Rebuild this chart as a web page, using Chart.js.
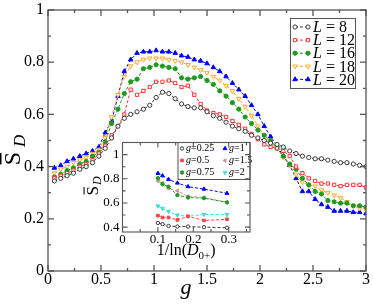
<!DOCTYPE html>
<html>
<head>
<meta charset="utf-8">
<script src="https://cdn.jsdelivr.net/npm/chart.js@4.4.1/dist/chart.umd.min.js"></script>
<style>
html, body { margin: 0; padding: 0; background: #fff; }
#wrap { position: relative; width: 373px; height: 304px; overflow: hidden; }
#main_chart { position: absolute; left: 0; top: 0; }
#inset_chart { position: absolute; left: 78px; top: 128px; }
</style>
</head>
<body>
<div id="wrap">
<canvas id="main_chart" width="373" height="304"></canvas>
<canvas id="inset_chart" width="177" height="137"></canvas>
</div>
<script>
// main panel: S_D against g for several L
const g_values = [
    0.06, 0.12, 0.18, 0.24, 0.30, 0.36, 0.42, 0.48, 0.54, 0.60,
    0.66, 0.72, 0.78, 0.84, 0.90, 0.96, 1.02, 1.08, 1.14, 1.20,
    1.26, 1.32, 1.38, 1.44, 1.50, 1.56, 1.62, 1.68, 1.74, 1.80,
    1.86, 1.92, 1.98, 2.04, 2.10, 2.16, 2.22, 2.28, 2.34, 2.40,
    2.46, 2.52, 2.58, 2.64, 2.70, 2.76, 2.82, 2.88, 2.94, 3.00,
];
const sd_l8 = [
    0.345, 0.355, 0.365, 0.375, 0.39, 0.40, 0.415, 0.44, 0.47, 0.51,
    0.555, 0.585, 0.60, 0.61, 0.62, 0.635, 0.665, 0.685, 0.68, 0.66,
    0.64, 0.63, 0.625, 0.625, 0.61, 0.595, 0.585, 0.57, 0.555, 0.545,
    0.535, 0.52, 0.51, 0.50, 0.49, 0.485, 0.475, 0.46, 0.45, 0.44,
    0.435, 0.43, 0.43, 0.425, 0.42, 0.415, 0.415, 0.41, 0.405, 0.40,
];
const sd_l12 = [
    0.355, 0.365, 0.375, 0.385, 0.40, 0.41, 0.425, 0.45, 0.48, 0.52,
    0.555, 0.60, 0.695, 0.675, 0.69, 0.705, 0.725, 0.725, 0.73, 0.72,
    0.705, 0.71, 0.675, 0.64, 0.615, 0.605, 0.60, 0.59, 0.575, 0.56,
    0.545, 0.525, 0.505, 0.485, 0.475, 0.47, 0.46, 0.44, 0.40, 0.375,
    0.355, 0.345, 0.335, 0.335, 0.33, 0.325, 0.33, 0.33, 0.33, 0.32,
];
const sd_l16 = [
    0.36, 0.37, 0.385, 0.395, 0.41, 0.42, 0.44, 0.455, 0.495, 0.565,
    0.62, 0.68, 0.725, 0.735, 0.775, 0.78, 0.79, 0.785, 0.78, 0.775,
    0.74, 0.735, 0.74, 0.745, 0.73, 0.715, 0.69, 0.67, 0.645, 0.62,
    0.59, 0.565, 0.54, 0.52, 0.50, 0.47, 0.44, 0.41, 0.39, 0.355,
    0.33, 0.305, 0.295, 0.27, 0.265, 0.26, 0.26, 0.25, 0.25, 0.245,
];
const sd_l18 = [
    0.375, 0.39, 0.40, 0.415, 0.425, 0.435, 0.45, 0.465, 0.51, 0.59,
    0.675, 0.745, 0.785, 0.80, 0.81, 0.815, 0.815, 0.815, 0.81, 0.805,
    0.80, 0.79, 0.78, 0.77, 0.76, 0.745, 0.73, 0.71, 0.69, 0.66,
    0.63, 0.595, 0.555, 0.52, 0.49, 0.47, 0.435, 0.405, 0.37, 0.34,
    0.33, 0.325, 0.31, 0.30, 0.29, 0.28, 0.265, 0.25, 0.24, 0.235,
];
const sd_l20 = [
    0.395, 0.405, 0.42, 0.43, 0.44, 0.45, 0.46, 0.475, 0.53, 0.575,
    0.67, 0.765, 0.81, 0.835, 0.84, 0.84, 0.845, 0.84, 0.84, 0.835,
    0.825, 0.82, 0.81, 0.805, 0.795, 0.78, 0.765, 0.745, 0.72, 0.695,
    0.67, 0.635, 0.60, 0.555, 0.515, 0.48, 0.44, 0.405, 0.355, 0.305,
    0.305, 0.275, 0.255, 0.245, 0.23, 0.23, 0.23, 0.225, 0.225, 0.22,
];
const l_labels = ['8', '12', '16', '18', '20'];
const main_x_ticks = [0, 0.5, 1, 1.5, 2, 2.5, 3];
const main_x_minor = [0.25, 0.75, 1.25, 1.75, 2.25, 2.75];
const main_y_ticks = [0, 0.2, 0.4, 0.6, 0.8, 1];
const main_y_minor = [0.1, 0.3, 0.5, 0.7, 0.9];

// inset: S_D against 1/ln(D0+) for several g
const inset_x_values = [0.1, 0.113, 0.13, 0.155, 0.185, 0.23, 0.295];
const inset_g025 = [0.435, 0.425, 0.41, 0.405, 0.405, 0.40, 0.395];
const inset_g05 = [0.495, 0.48, 0.48, 0.46, 0.49, 0.455, 0.465];
const inset_g075 = [0.805, 0.755, 0.735, 0.665, 0.645, 0.64, 0.605];
const inset_g1 = [0.845, 0.825, 0.795, 0.765, 0.735, 0.715, 0.68];
const inset_g15 = [0.78, 0.765, 0.72, 0.70, 0.655, 0.645, 0.605];
const inset_g2 = [0.575, 0.555, 0.53, 0.50, 0.49, 0.505, 0.505];
const g_labels = ['0.25', '0.5', '0.75', '1', '1.5', '2'];
const inset_x_ticks = [0, 0.1, 0.2, 0.3];
const inset_x_minor = [0.05, 0.15, 0.25, 0.35];
const inset_y_ticks = [0.4, 0.6, 0.8, 1];
const inset_y_minor = [0.5, 0.7, 0.9];

const serif = '"Liberation Serif", "DejaVu Serif", serif';
const frame_color = '#555555';

const main_styles = [
    { color: '#3a3a3a', fill: '#ffffff', point: 'circle', rotation: 0, radius: 2.1 },
    { color: '#ff3333', fill: '#ffffff', point: 'rect', rotation: 0, radius: 2.3 },
    { color: '#1f9a1f', fill: '#1f9a1f', point: 'circle', rotation: 0, radius: 2.1 },
    { color: '#ffaa22', fill: '#ffffff', point: 'triangle', rotation: 180, radius: 2.6 },
    { color: '#0000ff', fill: '#0000ff', point: 'triangle', rotation: 0, radius: 2.6 },
];
const inset_styles = [
    { color: '#3a3a3a', fill: '#ffffff', point: 'circle', rotation: 0, radius: 1.7 },
    { color: '#ff4444', fill: '#ff4444', point: 'rect', rotation: 0, radius: 1.9 },
    { color: '#1f9a1f', fill: '#1f9a1f', point: 'circle', rotation: 0, radius: 1.7 },
    { color: '#0000ff', fill: '#0000ff', point: 'triangle', rotation: 0, radius: 2.2 },
    { color: '#c49a9a', fill: '#c49a9a', point: 'triangle', rotation: 270, radius: 2 },
    { color: '#40e0d0', fill: '#40e0d0', point: 'triangle', rotation: 180, radius: 2.2 },
];

function pair_points(xs, ys) {
    return xs.map(function (x, idx) {
        return { x: x, y: ys[idx] };
    });
}

function make_dataset(label, xs, ys, style) {
    return {
        label: label,
        data: pair_points(xs, ys),
        showLine: true,
        borderColor: style.color,
        borderWidth: 1,
        borderDash: [3, 2],
        pointStyle: style.point,
        pointRotation: style.rotation,
        pointRadius: style.radius,
        pointBorderWidth: 1,
        pointBorderColor: style.color,
        pointBackgroundColor: style.fill,
        tension: 0,
    };
}

function fmt_tick(value) {
    return String(Math.round(value * 100) / 100);
}

function draw_marker(ctx, style, x, y) {
    ctx.save();
    ctx.strokeStyle = style.color;
    ctx.fillStyle = style.fill;
    ctx.lineWidth = 1;
    ctx.setLineDash([]);
    Chart.helpers.drawPoint(ctx, {
        pointStyle: style.point,
        rotation: style.rotation,
        radius: style.radius,
        borderWidth: 1,
    }, x, y);
    ctx.restore();
}

function draw_sd_title(ctx, cx, cy, size, gap) {
    const sub_size = Math.round(size * 0.7);
    ctx.save();
    ctx.translate(cx, cy);
    ctx.rotate(-Math.PI / 2);
    ctx.fillStyle = '#000';
    ctx.textBaseline = 'alphabetic';
    ctx.font = size + 'px ' + serif;
    const s_w = ctx.measureText('S').width;
    ctx.font = 'italic ' + sub_size + 'px ' + serif;
    const d_w = ctx.measureText('D').width;
    const x0 = -(s_w + gap + d_w) / 2;
    const base = size * 0.33;
    ctx.font = size + 'px ' + serif;
    ctx.fillText('S', x0, base);
    ctx.fillRect(x0 + 1, base - size * 0.83, s_w - 2, Math.max(1, size / 16));
    ctx.font = 'italic ' + sub_size + 'px ' + serif;
    ctx.fillText('D', x0 + s_w + gap, base + size * 0.22);
    ctx.restore();
}

function make_frame_plugin(cfg) {
    return {
        id: 'frame_' + cfg.name,
        beforeDatasetsDraw: function (chart) {
            const area = chart.chartArea;
            if (cfg.white) {
                const ctx = chart.ctx;
                ctx.save();
                ctx.fillStyle = '#ffffff';
                ctx.fillRect(area.left, area.top, area.right - area.left, area.bottom - area.top);
                ctx.restore();
            }
        },
        afterDraw: function (chart) {
            const ctx = chart.ctx;
            const area = chart.chartArea;
            const xs = chart.scales.x;
            const ys = chart.scales.y;
            ctx.save();
            ctx.strokeStyle = frame_color;
            ctx.lineWidth = cfg.line_width;
            ctx.beginPath();
            function x_tick(v, len) {
                const px = xs.getPixelForValue(v);
                ctx.moveTo(px, area.bottom);
                ctx.lineTo(px, area.bottom - len);
                ctx.moveTo(px, area.top);
                ctx.lineTo(px, area.top + len);
            }
            function y_tick(v, len) {
                const py = ys.getPixelForValue(v);
                ctx.moveTo(area.left, py);
                ctx.lineTo(area.left + len, py);
                ctx.moveTo(area.right, py);
                ctx.lineTo(area.right - len, py);
            }
            cfg.x_major.forEach(function (v) { x_tick(v, cfg.major_len); });
            cfg.x_minor.forEach(function (v) { x_tick(v, cfg.minor_len); });
            cfg.y_major.forEach(function (v) { y_tick(v, cfg.major_len); });
            cfg.y_minor.forEach(function (v) { y_tick(v, cfg.minor_len); });
            ctx.stroke();
            ctx.strokeRect(area.left, area.top, area.right - area.left, area.bottom - area.top);
            ctx.restore();
            cfg.titles(chart);
        },
    };
}

const main_legend_plugin = {
    id: 'main_legend',
    afterDatasetsDraw: function (chart) {
        const ctx = chart.ctx;
        const box = { left: 290, top: 18, right: 355, bottom: 88 };
        ctx.save();
        ctx.fillStyle = '#ffffff';
        ctx.fillRect(box.left, box.top, box.right - box.left, box.bottom - box.top);
        ctx.strokeStyle = frame_color;
        ctx.lineWidth = 1;
        ctx.strokeRect(box.left + 0.5, box.top + 0.5, box.right - box.left, box.bottom - box.top);
        l_labels.forEach(function (lab, idx) {
            const style = main_styles[idx];
            const row_y = 27 + idx * 13.1;
            ctx.strokeStyle = style.color;
            ctx.setLineDash([3, 2]);
            ctx.beginPath();
            ctx.moveTo(295, row_y);
            ctx.lineTo(308, row_y);
            ctx.stroke();
            ctx.setLineDash([]);
            draw_marker(ctx, style, 295, row_y);
            draw_marker(ctx, style, 308, row_y);
            ctx.fillStyle = '#000';
            ctx.textBaseline = 'middle';
            ctx.font = 'italic 16px ' + serif;
            ctx.fillText('L', 313, row_y + 1);
            const lw = ctx.measureText('L').width;
            ctx.font = '16px ' + serif;
            ctx.fillText(' = ' + lab, 313 + lw, row_y + 1);
        });
        ctx.restore();
    },
};

const inset_legend_plugin = {
    id: 'inset_legend',
    afterDatasetsDraw: function (chart) {
        const ctx = chart.ctx;
        const area = chart.chartArea;
        const box = { left: area.right - 72, top: area.top, right: area.right, bottom: area.top + 37 };
        ctx.save();
        ctx.fillStyle = '#ffffff';
        ctx.fillRect(box.left, box.top, box.right - box.left, box.bottom - box.top);
        ctx.strokeStyle = frame_color;
        ctx.lineWidth = 1;
        ctx.strokeRect(box.left, box.top, box.right - box.left, box.bottom - box.top);
        g_labels.forEach(function (lab, idx) {
            const col = Math.floor(idx / 3);
            const row = idx % 3;
            const style = inset_styles[idx];
            const mx = box.left + 4 + col * 43;
            const my = box.top + 6 + row * 12;
            draw_marker(ctx, style, mx, my);
            ctx.fillStyle = '#000';
            ctx.textBaseline = 'middle';
            ctx.font = 'italic 10px ' + serif;
            ctx.fillText('g', mx + 4, my);
            const gw = ctx.measureText('g').width;
            ctx.font = '10px ' + serif;
            ctx.fillText('=' + lab, mx + 4 + gw, my);
        });
        ctx.restore();
    },
};

function main_titles(chart) {
    const ctx = chart.ctx;
    ctx.save();
    ctx.fillStyle = '#000';
    ctx.font = 'italic 22px ' + serif;
    ctx.textAlign = 'center';
    ctx.textBaseline = 'alphabetic';
    ctx.fillText('g', 186, 294);
    ctx.restore();
    draw_sd_title(ctx, 12, 150, 24, 5);
}

function inset_titles(chart) {
    const ctx = chart.ctx;
    const area = chart.chartArea;
    const cx = (area.left + area.right) / 2;
    const base_y = 127;
    ctx.save();
    ctx.fillStyle = '#000';
    ctx.textBaseline = 'alphabetic';
    const parts = [
        { text: '1/ln(', font: '16px ' + serif, dy: 0 },
        { text: 'D', font: 'italic 16px ' + serif, dy: 0 },
        { text: '0+', font: '11px ' + serif, dy: 4 },
        { text: ')', font: '16px ' + serif, dy: 0 },
    ];
    let total = 0;
    parts.forEach(function (p) {
        ctx.font = p.font;
        p.w = ctx.measureText(p.text).width;
        total += p.w;
    });
    let x = cx - total / 2;
    parts.forEach(function (p) {
        ctx.font = p.font;
        ctx.fillText(p.text, x, base_y + p.dy);
        x += p.w;
    });
    ctx.restore();
    draw_sd_title(ctx, 14, 58, 17, 1);
}

function scale_opts(min, max, tick_values, font_size, pad, is_x, fit) {
    return {
        type: 'linear',
        min: min,
        max: max,
        afterBuildTicks: function (scale) {
            scale.ticks = tick_values.map(function (v) { return { value: v }; });
        },
        afterFit: function (scale) {
            if (is_x) {
                scale.height = fit;
            } else {
                scale.width = fit;
            }
        },
        grid: { display: false, drawTicks: false },
        border: { display: false },
        ticks: {
            color: '#000',
            padding: pad,
            maxRotation: 0,
            autoSkip: false,
            font: { family: serif, size: font_size, lineHeight: 0.75 },
            callback: fmt_tick,
        },
    };
}

const main_series = [sd_l8, sd_l12, sd_l16, sd_l18, sd_l20];
new Chart(document.getElementById('main_chart').getContext('2d'), {
    type: 'scatter',
    data: {
        datasets: main_series.map(function (ys, idx) {
            return make_dataset('L = ' + l_labels[idx], g_values, ys, main_styles[idx]);
        }),
    },
    options: {
        responsive: false,
        animation: false,
        layout: { padding: { left: 0, right: 5, top: 6, bottom: 0 } },
        plugins: { legend: { display: false }, tooltip: { enabled: false } },
        scales: {
            x: scale_opts(0, 3, main_x_ticks, 16, 3, true, 33),
            y: scale_opts(0, 1, main_y_ticks, 16, 4, false, 48),
        },
    },
    plugins: [
        make_frame_plugin({
            name: 'main', white: false, line_width: 1.3, major_len: 6, minor_len: 3,
            x_major: main_x_ticks, x_minor: main_x_minor,
            y_major: main_y_ticks, y_minor: main_y_minor,
            titles: main_titles,
        }),
        main_legend_plugin,
    ],
});

const inset_series = [inset_g025, inset_g05, inset_g075, inset_g1, inset_g15, inset_g2];
new Chart(document.getElementById('inset_chart').getContext('2d'), {
    type: 'scatter',
    data: {
        datasets: inset_series.map(function (ys, idx) {
            return make_dataset('g=' + g_labels[idx], inset_x_values, ys, inset_styles[idx]);
        }),
    },
    options: {
        responsive: false,
        animation: false,
        layout: { padding: { left: 0, right: 5, top: 14.5, bottom: 0 } },
        plugins: { legend: { display: false }, tooltip: { enabled: false } },
        scales: {
            x: scale_opts(0, 0.36, inset_x_ticks, 13, 3, true, 33),
            y: scale_opts(0.36, 1.1, inset_y_ticks, 13, 3, false, 44.5),
        },
    },
    plugins: [
        make_frame_plugin({
            name: 'inset', white: true, line_width: 1.1, major_len: 5, minor_len: 3,
            x_major: inset_x_ticks, x_minor: inset_x_minor,
            y_major: inset_y_ticks, y_minor: inset_y_minor,
            titles: inset_titles,
        }),
        inset_legend_plugin,
    ],
});
</script>
</body>
</html>
